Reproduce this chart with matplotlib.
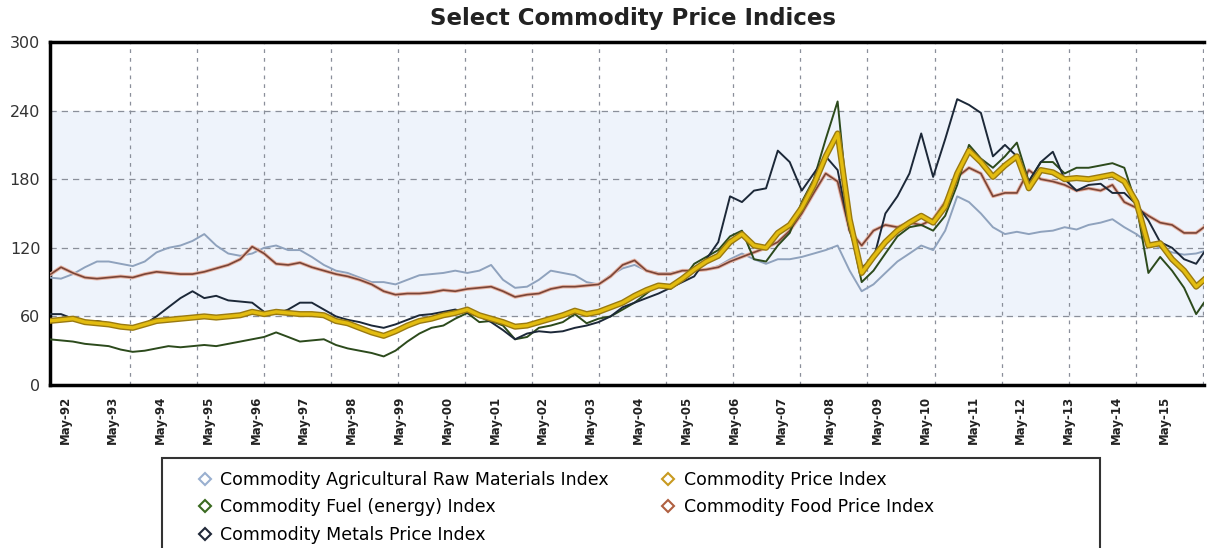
import numpy as np
import pandas as pd
import matplotlib
matplotlib.use("Agg")
import matplotlib.pyplot as plt
import matplotlib.patheffects as pe
from matplotlib.lines import Line2D
from matplotlib.patches import Rectangle

# quarterly readings (Jan, Apr, Jul, Oct) 1992-2015, then Jan and Mar 2016
dates = list(pd.date_range("1992-01-01", "2016-01-01", freq="3MS")) + [pd.Timestamp("2016-03-01")]

agri = [94, 93, 97, 103, 108, 108, 106, 104, 108, 116, 120, 122,
        126, 132, 122, 115, 113, 115, 120, 122, 118, 118, 112, 105,
        100, 98, 94, 90, 90, 88, 92, 96, 97, 98, 100, 98,
        100, 105, 92, 85, 86, 92, 100, 98, 96, 90, 88, 96,
        102, 105, 100, 98, 98, 100, 100, 101, 104, 110, 115, 110,
        106, 110, 110, 112, 115, 118, 122, 100, 82, 88, 98, 108,
        115, 122, 118, 135, 165, 160, 150, 138, 132, 134, 132, 134,
        135, 138, 136, 140, 142, 145, 138, 132, 124, 120, 116, 114,
        115, 117]

fuel = [40, 39, 38, 36, 35, 34, 31, 29, 30, 32, 34, 33,
        34, 35, 34, 36, 38, 40, 42, 46, 42, 38, 39, 40,
        35, 32, 30, 28, 25, 30, 38, 45, 50, 52, 58, 63,
        55, 56, 52, 40, 42, 50, 52, 55, 62, 54, 58, 60,
        66, 72, 80, 88, 84, 92, 106, 112, 118, 130, 135, 110,
        108, 122, 133, 160, 180, 215, 248, 140, 90, 100, 115, 130,
        138, 140, 135, 148, 175, 210, 198, 190, 200, 212, 178, 195,
        195, 185, 190, 190, 192, 194, 190, 158, 98, 112, 100, 85,
        62, 72]

metals = [62, 62, 58, 55, 56, 54, 52, 50, 53, 60, 68, 76,
          82, 76, 78, 74, 73, 72, 64, 62, 66, 72, 72, 66,
          60, 57, 55, 52, 50, 53, 57, 61, 62, 64, 66, 63,
          60, 55, 48, 40, 45, 47, 46, 47, 50, 52, 55, 60,
          68, 72, 76, 80, 85, 90, 95, 110, 125, 165, 160, 170,
          172, 205, 195, 170, 185, 200, 188, 135, 103, 110, 150, 165,
          185, 220, 182, 215, 250, 245, 238, 200, 210, 200, 178, 195,
          204, 180, 170, 175, 176, 168, 168, 158, 144, 125, 120, 110,
          106, 116]

price = [56, 57, 58, 55, 54, 53, 51, 50, 53, 56, 57, 58,
         59, 60, 59, 60, 61, 64, 62, 64, 63, 62, 62, 61,
         56, 54, 50, 46, 43, 47, 52, 56, 58, 61, 63, 66,
         61, 58, 55, 51, 52, 55, 58, 61, 65, 62, 64, 68,
         72, 78, 83, 87, 86, 93, 101, 108, 113, 125, 132, 122,
         120, 133, 140, 155, 175, 200, 220, 145, 98, 112, 125, 135,
         142, 148, 142, 156, 185, 205, 195, 182, 192, 200, 172, 188,
         186, 180, 181, 180, 182, 184, 178, 160, 122, 124, 110, 100,
         86, 92]

food = [96, 103, 98, 94, 93, 94, 95, 94, 97, 99, 98, 97,
        97, 99, 102, 105, 110, 121, 115, 106, 105, 107, 103, 100,
        97, 95, 92, 88, 82, 79, 80, 80, 81, 83, 82, 84,
        85, 86, 82, 77, 79, 80, 84, 86, 86, 87, 88, 95,
        105, 109, 100, 97, 97, 100, 100, 101, 103, 108, 112, 116,
        120, 125, 135, 150, 168, 185, 178, 135, 122, 135, 140, 138,
        142, 140, 145, 160, 182, 190, 185, 165, 168, 168, 188, 180,
        178, 175, 170, 172, 170, 175, 160, 155, 148, 142, 140, 133,
        133, 138]

tick_dates = pd.date_range("1992-05-01", "2015-05-01", freq="12MS")
tick_labels = [d.strftime("May-%y") for d in tick_dates]
y_ticks = [0, 60, 120, 180, 240, 300]

labels = {
    "agri": "Commodity Agricultural Raw Materials Index",
    "fuel": "Commodity Fuel (energy) Index",
    "metals": "Commodity Metals Price Index",
    "price": "Commodity Price Index",
    "food": "Commodity Food Price Index",
}

fig = plt.figure(figsize=(12.07, 5.48), dpi=100)
ax = fig.add_axes([50 / 1207, 1 - 385 / 548, 1154 / 1207, 343 / 548])

ax.axhspan(60, 240, color="#eef3fb", zorder=0)
for yv in [60, 120, 180, 240]:
    ax.axhline(yv, color="#8a8f9a", lw=0.9, ls=(0, (5, 4)), zorder=1)
# vertical grid runs on its own spacing, not on the tick dates
for f in np.arange(0.0693, 1.0, 0.0581):
    ax.plot([f, f], [0, 1], transform=ax.transAxes, color="#8a8f9a", lw=0.9,
            ls=(0, (3, 4)), zorder=1)

ax.plot(dates, agri, color="#8fa2bd", lw=1.4, zorder=3)
ax.plot(dates, food, color="#7a4436", lw=1.2, zorder=3,
        path_effects=[pe.Stroke(linewidth=2.6, foreground="#e6b4a4"), pe.Normal()])
ax.plot(dates, fuel, color="#2c4a1c", lw=1.4, zorder=4)
ax.plot(dates, metals, color="#1c2838", lw=1.4, zorder=4)
ax.plot(dates, price, color="#e3bc10", lw=2.4, zorder=5,
        path_effects=[pe.Stroke(linewidth=4.4, foreground="#9a7a10"), pe.Normal()])

ax.set_xlim(pd.Timestamp("1992-01-08"), pd.Timestamp("2016-03-01"))
ax.set_ylim(0, 300)
ax.set_yticks(y_ticks)
ax.set_yticklabels([str(v) for v in y_ticks], fontsize=11.5, color="#333333")
ax.set_xticks(tick_dates)
ax.set_xticklabels(tick_labels, rotation=90, fontsize=8.5, fontweight="bold", color="#222222")
ax.tick_params(axis="both", length=0)
ax.tick_params(axis="x", pad=8)
ax.tick_params(axis="y", pad=7)

for s in ["left", "top", "bottom"]:
    ax.spines[s].set_linewidth(2.5)
    ax.spines[s].set_color("black")
ax.spines["right"].set_visible(False)

fig.text(633 / 1207, 1 - 18 / 548, "Select Commodity Price Indices", ha="center", va="center",
         fontsize=16.5, fontweight="bold", color="#222222")

# legend box runs off the bottom of the picture
fig.patches.append(Rectangle((162 / 1207, -0.05), (1100 - 162) / 1207, (548 - 458) / 548 + 0.05,
                             transform=fig.transFigure, fill=False, ec="#333333", lw=1.5))

handles = [
    Line2D([], [], marker="D", ls="none", mfc="white", mec="#9ab0d0", ms=6.5, mew=1.5),
    Line2D([], [], marker="D", ls="none", mfc="white", mec="#3a6a20", ms=6.5, mew=1.5),
    Line2D([], [], marker="D", ls="none", mfc="white", mec="#202838", ms=6.5, mew=1.5),
    Line2D([], [], marker="D", ls="none", mfc="white", mec="#c89a20", ms=6.5, mew=1.5),
    Line2D([], [], marker="D", ls="none", mfc="white", mec="#b06040", ms=6.5, mew=1.5),
]
names = [labels["agri"], labels["fuel"], labels["metals"], labels["price"], labels["food"]]
fig.legend(handles, names, loc="upper left", bbox_to_anchor=(189 / 1207, 1 - 462 / 548),
           ncol=2, frameon=False, handlelength=0.8, handletextpad=0.5,
           columnspacing=3.0, labelspacing=0.55, borderpad=0,
           prop={"size": 12.5})

fig.savefig("out.png", dpi=100, facecolor="white")
